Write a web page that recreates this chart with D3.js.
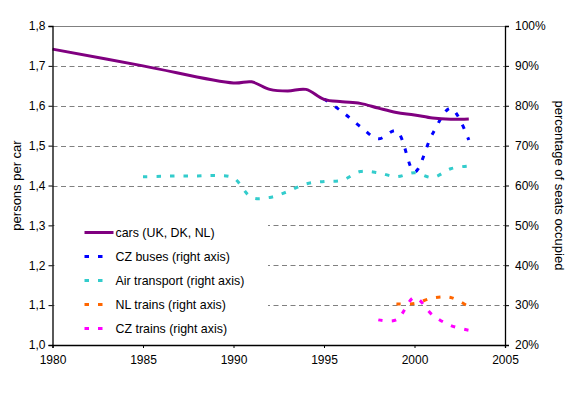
<!DOCTYPE html>
<html>
<head>
<meta charset="utf-8">
<script src="https://cdn.jsdelivr.net/npm/d3@7"></script>
<style>
  body { margin: 0; background: #fff; }
  svg text { font-family: "Liberation Sans", Arial, sans-serif; fill: #000; }
</style>
</head>
<body>
<div id="chart"></div>
<script>
// data
const carYears = [1980, 1985, 1990, 1991, 1992, 1993, 1994, 1995, 1996, 1997, 1998, 1999, 2000, 2001, 2002, 2003];
const carValues = [1.742, 1.700, 1.657, 1.660, 1.641, 1.637, 1.641, 1.616, 1.610, 1.606, 1.594, 1.583, 1.577, 1.569, 1.566, 1.567];

const busYears = [1995, 1996, 1997, 1998, 1999, 2000, 2001, 2002, 2003];
const busValues = [81.7, 78.5, 74.8, 71.7, 73.7, 63.4, 73.0, 79.4, 71.4];

const airYears = [1985, 1986, 1987, 1988, 1989, 1990, 1991, 1992, 1993, 1994, 1995, 1996, 1997, 1998, 1999, 2000, 2001, 2002, 2003];
const airValues = [62.2, 62.3, 62.4, 62.4, 62.5, 61.9, 57.0, 57.0, 58.5, 60.4, 61.0, 61.3, 63.5, 63.2, 62.2, 63.2, 62.0, 64.2, 64.9];

const nlTrainYears = [1999, 2000, 2001, 2002, 2003];
const nlTrainValues = [30.3, 30.4, 31.8, 31.9, 29.6];

const czTrainYears = [1998, 1999, 2000, 2001, 2002, 2003];
const czTrainValues = [26.3, 26.3, 31.9, 27.5, 24.9, 23.7];

const xTicks = [1980, 1985, 1990, 1995, 2000, 2005];
const leftTicks = [1.0, 1.1, 1.2, 1.3, 1.4, 1.5, 1.6, 1.7, 1.8];
const rightTicks = [20, 30, 40, 50, 60, 70, 80, 90, 100];

const width = 580, height = 398;
const plot = {left: 52.5, right: 505, top: 26, bottom: 345};

const svg = d3.select("#chart").append("svg")
  .attr("width", width)
  .attr("height", height);

const x = d3.scaleLinear().domain([1980, 2005]).range([plot.left, plot.right]);
const yLeft = d3.scaleLinear().domain([1.0, 1.8]).range([plot.bottom, plot.top]);
const yRight = d3.scaleLinear().domain([20, 100]).range([plot.bottom, plot.top]);

// gridlines (dashed), top one solid
svg.append("g")
  .selectAll("line")
  .data(leftTicks.filter(d => d > 1.0))
  .enter()
  .append("line")
  .attr("x1", plot.left)
  .attr("x2", plot.right)
  .attr("y1", d => Math.round(yLeft(d)) + 0.5)
  .attr("y2", d => Math.round(yLeft(d)) + 0.5)
  .attr("stroke", "#808080")
  .attr("stroke-width", 1)
  .attr("stroke-dasharray", d => d >= 1.8 ? null : "5,3.5");

const series = [
  {name: "CZ buses (right axis)", years: busYears, values: busValues, color: "#0000ff"},
  {name: "Air transport (right axis)", years: airYears, values: airValues, color: "#33cccc"},
  {name: "NL trains (right axis)", years: nlTrainYears, values: nlTrainValues, color: "#ff6600"},
  {name: "CZ trains (right axis)", years: czTrainYears, values: czTrainValues, color: "#ff00ff"}
];

// legend box hides gridlines beneath it
svg.append("rect")
  .attr("x", plot.left + 2)
  .attr("y", 210)
  .attr("width", 268 - plot.left - 2)
  .attr("height", plot.bottom - 212)
  .attr("fill", "#fff");

const line = (ys) => d3.line()
  .x(d => x(d[0]))
  .y(d => ys(d[1]))
  .curve(d3.curveCatmullRom.alpha(0.5));

// right-axis series, dotted
series.forEach(s => {
  svg.append("path")
    .datum(d3.zip(s.years, s.values))
    .attr("fill", "none")
    .attr("stroke", s.color)
    .attr("stroke-width", 3)
    .attr("stroke-dasharray", "4.5,9")
    .attr("d", line(yRight));
});

// cars line
svg.append("path")
  .datum(d3.zip(carYears, carValues))
  .attr("fill", "none")
  .attr("stroke", "#800080")
  .attr("stroke-width", 3)
  .attr("d", line(yLeft));

// axes
const fmtLeft = d => d3.format(".1f")(d).replace(".", ",");
const axisLeft = svg.append("g")
  .attr("transform", `translate(${plot.left},0)`)
  .call(d3.axisLeft(yLeft).tickValues(leftTicks).tickFormat(fmtLeft).tickSize(4).tickPadding(3));
const axisRight = svg.append("g")
  .attr("transform", `translate(${plot.right},0)`)
  .call(d3.axisRight(yRight).tickValues(rightTicks).tickFormat(d => d + "%").tickSize(4).tickPadding(6));
const axisBottom = svg.append("g")
  .attr("transform", `translate(0,${plot.bottom})`)
  .call(d3.axisBottom(x).tickValues(xTicks).tickFormat(d3.format("d")).tickSize(3).tickPadding(7));

[axisLeft, axisRight, axisBottom].forEach(g => {
  g.selectAll(".domain").attr("stroke", "#000").attr("stroke-width", 1.3);
  g.selectAll(".tick line").attr("stroke", "#000");
  g.selectAll("text").attr("font-size", 12).style("font-family", "Liberation Sans, Arial, sans-serif");
});

// axis titles
svg.append("text")
  .attr("transform", `translate(16,${(plot.top + plot.bottom) / 2}) rotate(-90)`)
  .attr("text-anchor", "middle")
  .attr("dy", "0.35em")
  .attr("font-size", 13)
  .text("persons per car");

svg.append("text")
  .attr("transform", `translate(560,${(plot.top + plot.bottom) / 2}) rotate(90)`)
  .attr("text-anchor", "middle")
  .attr("dy", "0.35em")
  .attr("font-size", 13)
  .text("percentage of seats occupied");

// legend
const legendItems = [{name: "cars (UK, DK, NL)", color: "#800080", solid: true}]
  .concat(series.map(s => ({name: s.name, color: s.color, solid: false})));

const legend = svg.append("g")
  .selectAll("g")
  .data(legendItems)
  .enter()
  .append("g")
  .attr("transform", (d, i) => `translate(0,${232.5 + i * 24})`);

legend.append("line")
  .attr("x1", 84.5)
  .attr("x2", d => d.solid ? 113.5 : 106)
  .attr("y1", 0)
  .attr("y2", 0)
  .attr("stroke", d => d.color)
  .attr("stroke-width", 3)
  .attr("stroke-dasharray", d => d.solid ? null : "4.5,9");

legend.append("text")
  .attr("x", 115.5)
  .attr("dy", "0.35em")
  .attr("font-size", 12.4)
  .text(d => d.name);
</script>
</body>
</html>
